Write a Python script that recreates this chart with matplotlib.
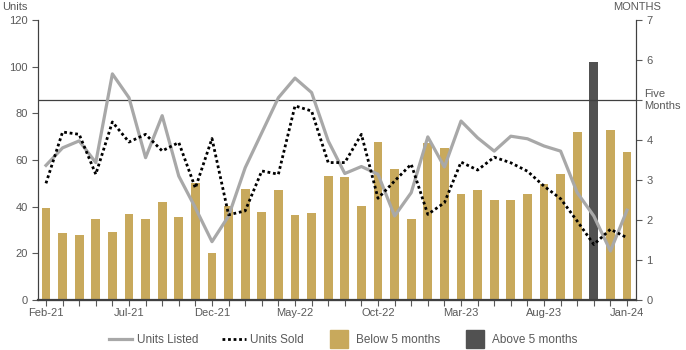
import matplotlib
matplotlib.use("Agg")
import matplotlib.pyplot as plt
from matplotlib.lines import Line2D

plt.rcParams["font.family"] = ["Liberation Sans", "DejaVu Sans"]

MONTHS = ["Feb-21", "Mar-21", "Apr-21", "May-21", "Jun-21", "Jul-21", "Aug-21", "Sep-21",
          "Oct-21", "Nov-21", "Dec-21", "Jan-22", "Feb-22", "Mar-22", "Apr-22", "May-22",
          "Jun-22", "Jul-22", "Aug-22", "Sep-22", "Oct-22", "Nov-22", "Dec-22", "Jan-23",
          "Feb-23", "Mar-23", "Apr-23", "May-23", "Jun-23", "Jul-23", "Aug-23", "Sep-23",
          "Oct-23", "Nov-23", "Dec-23", "Jan-24"]

# months of supply (right axis)
SUPPLY = [2.29, 1.67, 1.62, 2.02, 1.69, 2.14, 2.02, 2.44, 2.07, 2.93, 1.17, 2.35,
          2.77, 2.20, 2.74, 2.12, 2.17, 3.09, 3.07, 2.34, 3.94, 3.27, 2.02, 3.92,
          3.81, 2.64, 2.76, 2.49, 2.51, 2.64, 2.91, 3.16, 4.21, 5.96, 4.26, 3.71]

# units (left axis)
LISTED = [57.7, 65.2, 68.2, 58.9, 96.9, 86.7, 61.0, 79.0, 53.1, 39.5, 25.0, 36.0,
          56.7, 71.7, 86.7, 95.1, 88.9, 68.2, 54.2, 57.2, 53.9, 36.0, 46.0, 69.9,
          57.0, 76.7, 69.5, 63.8, 70.2, 69.1, 66.0, 63.8, 46.0, 36.0, 21.0, 38.5]
SOLD = [50.0, 72.0, 71.0, 53.9, 76.3, 67.7, 71.0, 63.9, 67.5, 48.0, 69.2, 36.5,
        38.2, 55.3, 53.9, 83.2, 81.0, 58.9, 58.9, 71.0, 43.6, 51.0, 58.2, 36.7,
        41.7, 59.1, 55.7, 61.2, 58.8, 55.2, 48.8, 43.4, 33.8, 23.8, 30.3, 26.7]

THRESHOLD = 5

GOLD = "#C8A95C"
DARK = "#515151"
GREY = "#A8A8A8"
TEXT = "#595959"

x = list(range(len(MONTHS)))

fig = plt.figure(figsize=(6.86, 3.5), dpi=100)
ax = fig.add_axes([38 / 686, 50 / 350, 598 / 686, 280 / 350])
ax2 = ax.twinx()

# bars on the months axis, drawn behind the unit lines
bar_colors = [DARK if v > THRESHOLD else GOLD for v in SUPPLY]
ax2.bar(x, SUPPLY, width=0.53, color=bar_colors, zorder=1)
ax2.axhline(THRESHOLD, color="#404040", linewidth=0.9, zorder=2)
ax2.set_ylim(0, 7)
ax2.set_zorder(1)
ax.set_zorder(2)
ax.patch.set_visible(False)

ax.plot(x, LISTED, color=GREY, linewidth=2.3, zorder=3)
ax.plot(x, SOLD, color="black", linewidth=2.0, linestyle=(0, (1, 1)), zorder=4)
ax.set_ylim(0, 120)
ax.set_xlim(-0.48, 35.54)

ax.set_xticks(x)
ax.set_xticklabels([m if i % 5 == 0 else "" for i, m in enumerate(MONTHS)])
ax.set_yticks(range(0, 121, 20))
ax2.set_yticks(range(0, 8))
ax2.set_yticklabels([str(v) if v != THRESHOLD else "" for v in range(0, 8)])

for a in (ax, ax2):
    a.tick_params(labelsize=8, colors=TEXT, length=4, width=0.8)
    for s in a.spines.values():
        s.set_color("#404040")
    a.spines["top"].set_visible(False)
ax.spines["bottom"].set_linewidth(1.6)
ax.tick_params(axis="x", pad=2)

fig.text(2 / 686, 1 - 7 / 350, "Units", fontsize=8, color=TEXT, va="center", ha="left")
fig.text(637 / 686, 1 - 7 / 350, "MONTHS", fontsize=8, color=TEXT, va="center", ha="center")
ax2.text(36.0, THRESHOLD, "Five\nMonths", fontsize=8, color=TEXT, va="center", ha="left",
         linespacing=1.3, clip_on=False)

handles = [
    Line2D([0], [0], color=GREY, linewidth=2.3),
    Line2D([0], [0], color="black", linewidth=2.0, linestyle=(0, (1, 1))),
    Line2D([0], [0], linestyle="none", marker="s", markersize=13, color=GOLD),
    Line2D([0], [0], linestyle="none", marker="s", markersize=13, color=DARK),
]
labels = ["Units Listed", "Units Sold", "Below 5 months", "Above 5 months"]
leg = fig.legend(handles, labels, loc="center", bbox_to_anchor=(0.5, 1 - 340 / 350),
                 ncol=4, frameon=False, fontsize=8.5, handlelength=2.0,
                 handletextpad=0.4, columnspacing=2.0)
for t in leg.get_texts():
    t.set_color(TEXT)

fig.savefig("out.png", dpi=100)
